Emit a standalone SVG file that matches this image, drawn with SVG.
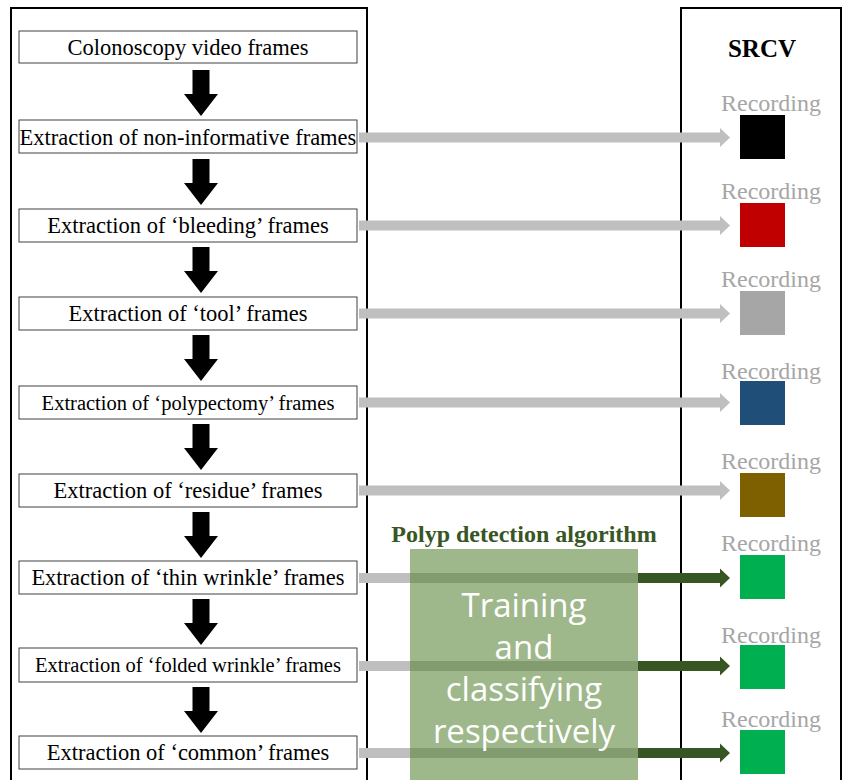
<svg xmlns="http://www.w3.org/2000/svg" width="846" height="780" viewBox="0 0 846 780">
<defs>
<style>
.panel{fill:none;stroke:#000;stroke-width:2}
.box{fill:#fff;stroke:#404040;stroke-width:1}
.bt{font-family:"Liberation Serif",serif;font-size:22.5px;fill:#000;text-anchor:middle}
.bt.sm{font-size:20.5px}
.rec{font-family:"Liberation Serif",serif;font-size:24px;fill:#a6a6a6;text-anchor:middle}
.down{fill:#000}
.gray{fill:#bfbfbf}
.green{fill:#375623}
.tc{font-family:"Open Sans","Noto Sans",sans-serif;font-size:33px;fill:#fff;text-anchor:middle}
</style>
<path id="dn" d="M-8.5,0 H8.5 V24 H17 L0,46 L-17,24 H-8.5 Z"/>
</defs>
<rect class="panel" x="11" y="8" width="356" height="790"/>
<rect class="panel" x="681" y="8" width="160" height="790"/>
<text x="762" y="57" font-family="Liberation Serif,serif" font-size="25" font-weight="bold" text-anchor="middle">SRCV</text>

<g id="connectors">
<use href="#dn" class="down" x="201" y="70"/>
<use href="#dn" class="down" x="201" y="159"/>
<use href="#dn" class="down" x="201" y="247"/>
<use href="#dn" class="down" x="201" y="335"/>
<use href="#dn" class="down" x="201" y="424"/>
<use href="#dn" class="down" x="201" y="512"/>
<use href="#dn" class="down" x="201" y="599"/>
<use href="#dn" class="down" x="201" y="687"/>
<path class="gray" d="M359,132.5 H720 V128 L730,137.5 L720,147 V142.5 H359 Z"/>
<path class="gray" d="M359,220.5 H720 V216 L730,225.5 L720,235 V230.5 H359 Z"/>
<path class="gray" d="M359,308.5 H720 V304 L730,313.5 L720,323 V318.5 H359 Z"/>
<path class="gray" d="M359,397.5 H720 V393 L730,402.5 L720,412 V407.5 H359 Z"/>
<path class="gray" d="M359,485.5 H720 V481 L730,490.5 L720,500 V495.5 H359 Z"/>
<rect class="gray" x="359" y="573" width="282" height="10"/>
<rect class="gray" x="359" y="661" width="282" height="10"/>
<rect class="gray" x="359" y="748" width="282" height="10"/>
<path class="green" d="M638,573 H720 V568.5 L730,578 L720,587.5 V583 H638 Z"/>
<path class="green" d="M638,661 H720 V656.5 L730,666 L720,675.5 V671 H638 Z"/>
<path class="green" d="M638,748 H720 V743.5 L730,753 L720,762.5 V758 H638 Z"/>
</g>

<g id="n1"><rect class="box" x="19" y="31" width="338" height="32"/><text class="bt" x="188" y="55">Colonoscopy video frames</text></g>
<g id="n2"><rect class="box" x="19" y="120" width="338" height="33"/><text class="bt" x="188" y="145">Extraction of non-informative frames</text></g>
<g id="n3"><rect class="box" x="19" y="209" width="338" height="33"/><text class="bt" x="188" y="233">Extraction of ‘bleeding’ frames</text></g>
<g id="n4"><rect class="box" x="19" y="297" width="338" height="33"/><text class="bt" x="188" y="321">Extraction of ‘tool’ frames</text></g>
<g id="n5"><rect class="box" x="19" y="386" width="338" height="33"/><text class="bt sm" x="188" y="410">Extraction of ‘polypectomy’ frames</text></g>
<g id="n6"><rect class="box" x="19" y="474" width="338" height="33"/><text class="bt" x="188" y="498">Extraction of ‘residue’ frames</text></g>
<g id="n7"><rect class="box" x="19" y="561" width="338" height="33"/><text class="bt" x="188" y="585">Extraction of ‘thin wrinkle’ frames</text></g>
<g id="n8"><rect class="box" x="19" y="648" width="338" height="34"/><text class="bt sm" x="188" y="672">Extraction of ‘folded wrinkle’ frames</text></g>
<g id="n9"><rect class="box" x="19" y="736" width="338" height="33"/><text class="bt" x="188" y="760">Extraction of ‘common’ frames</text></g>

<g id="r1"><text class="rec" x="771" y="111">Recording</text><rect x="740" y="115" width="45" height="44" fill="#000"/></g>
<g id="r2"><text class="rec" x="771" y="199">Recording</text><rect x="740" y="203" width="45" height="44" fill="#c00000"/></g>
<g id="r3"><text class="rec" x="771" y="287">Recording</text><rect x="740" y="291" width="45" height="44" fill="#a6a6a6"/></g>
<g id="r4"><text class="rec" x="771" y="379">Recording</text><rect x="740" y="381" width="45" height="44" fill="#1f4e79"/></g>
<g id="r5"><text class="rec" x="771" y="469">Recording</text><rect x="740" y="473" width="45" height="44" fill="#7f6000"/></g>
<g id="r6"><text class="rec" x="771" y="551">Recording</text><rect x="740" y="555" width="45" height="44" fill="#00b050"/></g>
<g id="r7"><text class="rec" x="771" y="643">Recording</text><rect x="740" y="645" width="45" height="44" fill="#00b050"/></g>
<g id="r8"><text class="rec" x="771" y="727">Recording</text><rect x="740" y="730" width="45" height="44" fill="#00b050"/></g>

<g id="algo">
<text x="524" y="542" font-family="Liberation Serif,serif" font-size="24" font-weight="bold" fill="#375623" text-anchor="middle">Polyp detection algorithm</text>
<rect x="410" y="549" width="228" height="240" fill="#548235" fill-opacity="0.57"/>
<text class="tc" x="524" y="617">Training</text>
<text class="tc" x="524" y="659">and</text>
<text class="tc" x="524" y="701">classifying</text>
<text class="tc" x="524" y="743">respectively</text>
</g>
</svg>
